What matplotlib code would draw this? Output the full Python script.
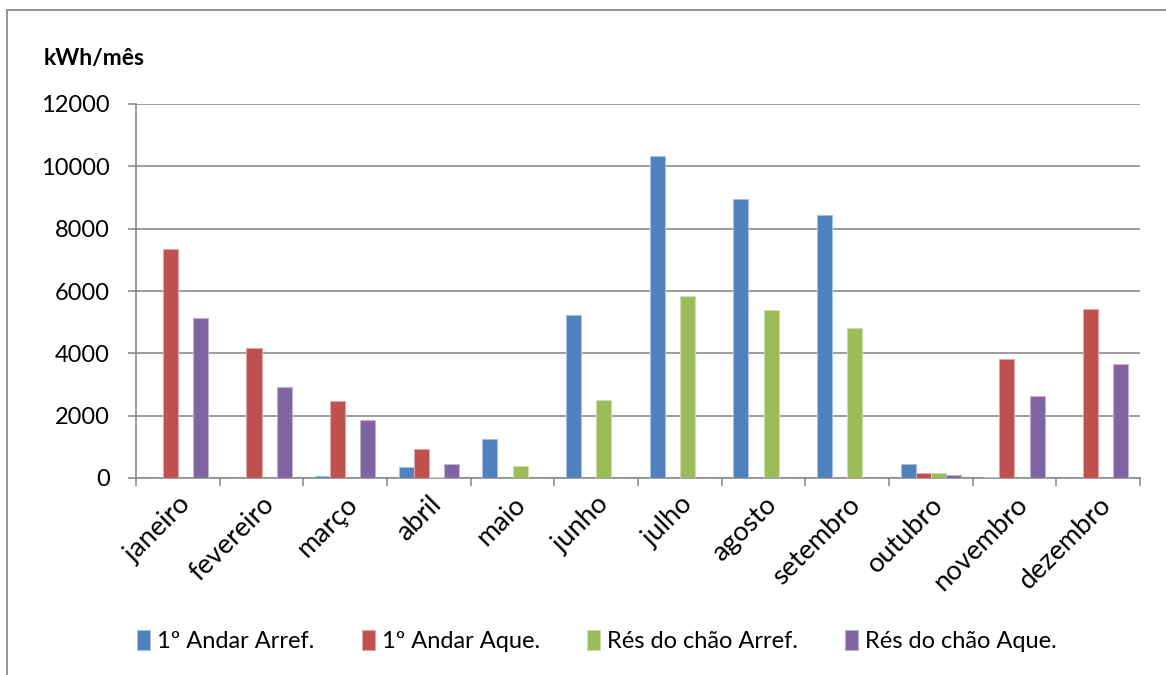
import matplotlib
matplotlib.use("Agg")
import matplotlib.pyplot as plt
import numpy as np
from matplotlib.patches import Rectangle

plt.rcParams['font.family'] = ['Lato', 'DejaVu Sans']

months = ["janeiro", "fevereiro", "março", "abril", "maio", "junho",
          "julho", "agosto", "setembro", "outubro", "novembro", "dezembro"]

andar1_arref = [12, 12, 60, 344, 1254, 5222, 10334, 8952, 8437, 440, 20, 12]
andar1_aque = [7335, 4184, 2465, 942, 0, 0, 0, 0, 0, 160, 3826, 5415]
res_arref = [0, 0, 10, 30, 386, 2489, 5833, 5402, 4804, 150, 5, 0]
res_aque = [5129, 2926, 1861, 450, 15, 0, 0, 0, 0, 87, 2617, 3656]

series_names = ["1º Andar Arref.", "1º Andar Aque.", "Rés do chão Arref.", "Rés do chão Aque."]
series_values = [andar1_arref, andar1_aque, res_arref, res_aque]
colors = ["#4F81BD", "#C0504D", "#9BBB59", "#8064A2"]
edges = ["#A7C0DE", "#DFA8A6", "#CDDDAC", "#BFB1D0"]

y_ticks = [0, 2000, 4000, 6000, 8000, 10000, 12000]

W, H = 1166, 675
fig = plt.figure(figsize=(W / 100, H / 100), dpi=100)

# outer chart frame
fig.patches.append(Rectangle((7 / W, -0.05), 1.2, 1 - 10 / H + 0.05,
                             transform=fig.transFigure, fill=False,
                             edgecolor="#8C8C8C", linewidth=1.3))

ax = fig.add_axes([136 / W, 1 - 478 / H, (1140 - 136) / W, (478 - 104) / H])

x = np.arange(len(months))
bw = 0.18
for i, (name, vals) in enumerate(zip(series_names, series_values)):
    offs = (i - 1.5) * bw
    ax.bar(x + offs, vals, width=bw, color=colors[i], edgecolor=edges[i],
           linewidth=0.8, label=name, zorder=3)

ax.set_xlim(-0.5, len(months) - 0.5)
ax.set_ylim(0, 12000)
ax.set_yticks(y_ticks)
ax.set_yticklabels([str(v) for v in y_ticks], fontsize=17)
ax.yaxis.grid(True, color="#8C8C8C", linewidth=1.2, zorder=0)

ax.set_xticks(x)
ax.set_xticklabels(months, rotation=45, ha="right", rotation_mode="anchor",
                   fontsize=19.5)
ax.tick_params(axis="x", which="major", length=0, pad=10)
ax.set_xticks(np.arange(-0.5, len(months), 1.0), minor=True)
ax.tick_params(axis="x", which="minor", length=6, color="#8C8C8C", width=1.2)
ax.tick_params(axis="y", length=6, color="#8C8C8C", width=1.2, pad=13)

for s in ["top", "right"]:
    ax.spines[s].set_visible(False)
for s in ["left", "bottom"]:
    ax.spines[s].set_color("#8C8C8C")
    ax.spines[s].set_linewidth(1.2)

fig.text(44 / W, 1 - 58 / H, "kWh/mês", fontsize=16.5, fontweight="bold",
         va="center", ha="left")

fig.legend(loc="center", bbox_to_anchor=(597 / W, 1 - 641 / H), ncol=4,
           frameon=False, fontsize=17, handlelength=0.55, handleheight=0.9,
           handletextpad=0.3, columnspacing=2.0)

fig.savefig("out.png", dpi=100)
